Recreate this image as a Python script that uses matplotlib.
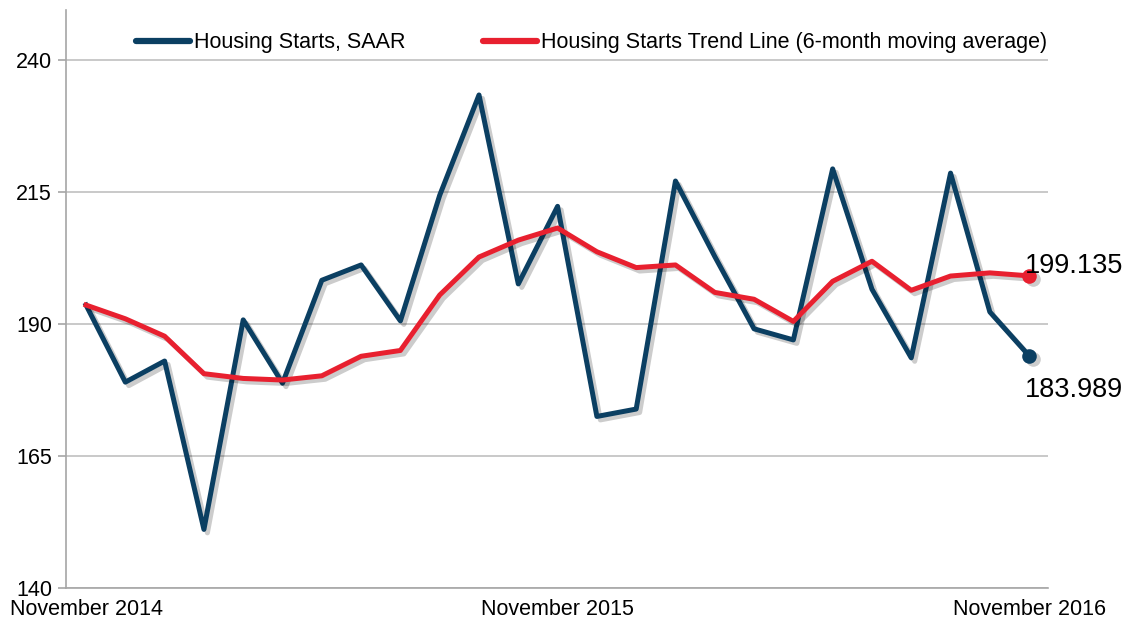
import matplotlib
matplotlib.use("Agg")
import matplotlib.pyplot as plt
import matplotlib.patheffects as pe
import matplotlib.transforms as mtransforms
import numpy as np

plt.rcParams['font.family'] = ['Liberation Sans', 'DejaVu Sans']

months = ["Nov 2014", "Dec 2014", "Jan 2015", "Feb 2015", "Mar 2015", "Apr 2015",
          "May 2015", "Jun 2015", "Jul 2015", "Aug 2015", "Sep 2015", "Oct 2015",
          "Nov 2015", "Dec 2015", "Jan 2016", "Feb 2016", "Mar 2016", "Apr 2016",
          "May 2016", "Jun 2016", "Jul 2016", "Aug 2016", "Sep 2016", "Oct 2016",
          "Nov 2016"]
starts = [193.6, 179.0, 183.0, 151.1, 190.8, 178.8, 198.3, 201.2, 190.6, 214.4,
          233.4, 197.6, 212.3, 172.5, 173.9, 217.1, 202.8, 189.1, 187.0, 219.4,
          196.6, 183.6, 218.6, 192.3, 183.989]
trend = [193.6, 191.0, 187.7, 180.6, 179.7, 179.4, 180.2, 183.9, 185.0, 195.5,
         202.7, 205.9, 208.2, 203.7, 200.7, 201.2, 196.0, 194.7, 190.5, 198.1,
         201.9, 196.4, 199.1, 199.7, 199.135]
tick_labels = ["November 2014", "November 2015", "November 2016"]
tick_idx = [0, 12, 24]
yticks = [140, 165, 190, 215, 240]

blue = "#0B3F62"
red = "#E8202F"

fig = plt.figure(figsize=(11.3, 6.27), dpi=100)
ax = fig.add_axes([66/1130, 1-588/627, (1048-66)/1130, (588-10)/627])

x = np.arange(len(months))
shadow = [pe.SimpleLineShadow(offset=(2.5, -2.5), shadow_color='black', alpha=0.2, rho=1),
          pe.Normal()]
ax.plot(x, starts, color=blue, lw=3.6, label="Housing Starts, SAAR",
        path_effects=shadow, zorder=3)
ax.plot(x, trend, color=red, lw=3.6, label="Housing Starts Trend Line (6-month moving average)",
        path_effects=shadow, zorder=4)

shadow_tr = mtransforms.offset_copy(ax.transData, fig=fig, x=2.5, y=-2.5, units='points')
ax.plot(x[-1], starts[-1], 'o', color='black', alpha=0.2, ms=10.5, mew=0,
        transform=shadow_tr, zorder=4.5)
ax.plot(x[-1], trend[-1], 'o', color='black', alpha=0.2, ms=10.5, mew=0,
        transform=shadow_tr, zorder=4.5)
ax.plot(x[-1], starts[-1], 'o', color=blue, ms=10.5, mew=0, zorder=5)
ax.plot(x[-1], trend[-1], 'o', color=red, ms=10.5, mew=0, zorder=5)

ax.annotate(f"{trend[-1]:.3f}", (x[-1], trend[-1]), xytext=(-3, 2), textcoords='offset points',
            ha='left', va='baseline', fontsize=19.5, color='black', zorder=6)
ax.annotate(f"{starts[-1]:.3f}", (x[-1], starts[-1]), xytext=(-3, -29.5), textcoords='offset points',
            ha='left', va='baseline', fontsize=19.5, color='black', zorder=6)

ax.set_xlim(-0.51, 24.48)
ax.set_ylim(140, 249.5)
ax.set_yticks(yticks)
ax.set_yticklabels([str(v) for v in yticks], fontsize=15.5)
ax.set_xticks(tick_idx)
ax.set_xticklabels(tick_labels, fontsize=15.5)
ax.tick_params(axis='x', length=0, pad=8)
ax.tick_params(axis='y', length=6, color='#A6A6A6', width=1.2, pad=4)
ax.grid(axis='y', color='#C0C0C0', lw=1.2)
ax.set_axisbelow(True)
for s in ['top', 'right']:
    ax.spines[s].set_visible(False)
for s in ['left', 'bottom']:
    ax.spines[s].set_color('#A6A6A6')
    ax.spines[s].set_linewidth(1.2)

leg = ax.legend(loc='upper center', bbox_to_anchor=(0.535, 0.995), ncol=2, frameon=False,
                fontsize=15.5, handlelength=2.5, handletextpad=0.2, columnspacing=3.6)
for line in leg.get_lines():
    line.set_linewidth(4.5)
    line.set_solid_capstyle('round')
    line.set_path_effects([])

fig.savefig("out.png", dpi=100)
